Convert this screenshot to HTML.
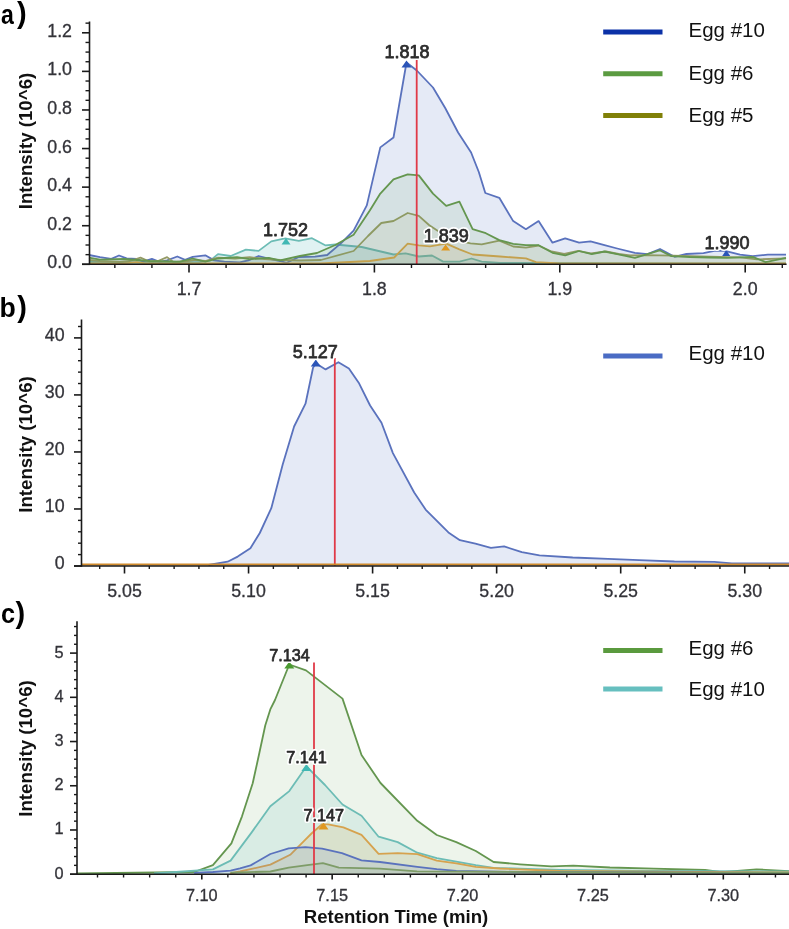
<!DOCTYPE html>
<html><head><meta charset="utf-8"><title>Chromatograms</title>
<style>
html,body{margin:0;padding:0;background:#fff;}
body{width:789px;height:929px;overflow:hidden;position:relative;font-family:"Liberation Sans", sans-serif;}
svg{position:absolute;left:0;top:0;display:block;filter:blur(0.3px);}
svg text{font-family:"Liberation Sans", sans-serif;}
</style></head><body>
<svg width="789" height="929" viewBox="0 0 789 929">
<rect width="789" height="929" fill="#fff"/>
<polygon points="89,264.3 89,262 150,262.5 200,262 210.4,260.4 218,254.1 230.7,256 245.9,249.6 258.6,250.9 271.3,241.4 285,238.4 298.8,240.9 312,238.2 325.2,245.3 335.3,244.5 361.7,247 393.5,254.5 405.6,253.4 418.8,256.5 432,255.5 443.2,261.6 459.4,261.6 471.6,258.5 481.7,261.6 500,263 786,263.5 786,264.3" fill="#62c0c0" fill-opacity="0.2" stroke="none"/>
<polyline points="89,262 150,262.5 200,262 210.4,260.4 218,254.1 230.7,256 245.9,249.6 258.6,250.9 271.3,241.4 285,238.4 298.8,240.9 312,238.2 325.2,245.3 335.3,244.5 361.7,247 393.5,254.5 405.6,253.4 418.8,256.5 432,255.5 443.2,261.6 459.4,261.6 471.6,258.5 481.7,261.6 500,263 786,263.5" fill="none" stroke="#6cbcb5" stroke-width="1.8" stroke-opacity="1.0" stroke-linejoin="round"/>
<polygon points="89,264.3 89,255 100,257.1 111.3,258.8 119,255.5 126.6,258.4 136.7,258.8 143,261.5 151.9,258.8 159.5,261.8 167.1,260.3 177.3,256.5 185.1,259.8 192.7,256.9 205.3,255.3 214.2,260.4 224.4,261.7 239.6,262.3 248.4,260.4 258.6,256 268.7,258.5 280,261 286.7,262.8 298.8,257 315,256.7 327.2,255 341.4,242.9 353.6,230.7 366.8,205.4 380.3,147.4 393.5,137.5 406.5,62.5 416.8,70.5 433,87.5 445.2,108 458.1,132.5 471.1,152.5 478.8,172 485.3,193 499.3,197.8 513.2,221.1 525.9,229.2 538.6,221.1 552.5,242.7 565.2,238.4 579.1,242.7 590.5,241.4 604.5,245.2 617.2,248.5 634.9,252.8 647.6,254.1 660,249 674.6,256.8 686.4,254 703.5,253.1 714.2,250.8 725,250.8 740,254.6 752.8,256.1 767.8,254.6 786,254.6 786,264.3" fill="#5070c4" fill-opacity="0.15" stroke="none"/>
<polyline points="89,255 100,257.1 111.3,258.8 119,255.5 126.6,258.4 136.7,258.8 143,261.5 151.9,258.8 159.5,261.8 167.1,260.3 177.3,256.5 185.1,259.8 192.7,256.9 205.3,255.3 214.2,260.4 224.4,261.7 239.6,262.3 248.4,260.4 258.6,256 268.7,258.5 280,261 286.7,262.8 298.8,257 315,256.7 327.2,255 341.4,242.9 353.6,230.7 366.8,205.4 380.3,147.4 393.5,137.5 406.5,62.5 416.8,70.5 433,87.5 445.2,108 458.1,132.5 471.1,152.5 478.8,172 485.3,193 499.3,197.8 513.2,221.1 525.9,229.2 538.6,221.1 552.5,242.7 565.2,238.4 579.1,242.7 590.5,241.4 604.5,245.2 617.2,248.5 634.9,252.8 647.6,254.1 660,249 674.6,256.8 686.4,254 703.5,253.1 714.2,250.8 725,250.8 740,254.6 752.8,256.1 767.8,254.6 786,254.6" fill="none" stroke="#5a72bd" stroke-width="1.8" stroke-opacity="1.0" stroke-linejoin="round"/>
<polygon points="89,264.3 89,263.5 120,263.3 129,262.8 136.7,262.2 145,263.3 200,263.5 260,263.5 320,263.5 369.8,261 394.2,257.5 407.7,243.7 418.8,245.3 430,246.3 446.2,243.7 459.4,249.4 472.6,254.5 500,256.5 525.9,258.4 536,262.2 560,263.5 786,263.5 786,264.3" fill="#d9a040" fill-opacity="0.1" stroke="none"/>
<polyline points="89,263.5 120,263.3 129,262.8 136.7,262.2 145,263.3 200,263.5 260,263.5 320,263.5 369.8,261 394.2,257.5 407.7,243.7 418.8,245.3 430,246.3 446.2,243.7 459.4,249.4 472.6,254.5 500,256.5 525.9,258.4 536,262.2 560,263.5 786,263.5" fill="none" stroke="#d6a24e" stroke-width="1.8" stroke-opacity="1.0" stroke-linejoin="round"/>
<polygon points="89,264.3 89,260 100,261 120,262 130,261 140.5,257.7 149.4,261.5 158,261 167.1,257.1 173.5,262.2 187.6,261 195.2,259.8 205,261 218,257.6 235,258.5 249.7,257.2 265,259 280,260 300,260.5 321,260 353.6,251 368,236 381.3,223 393.5,221 407.7,213 418.8,215.9 429,225 441,233 455,240 470.5,243.3 481.7,244.3 499.3,240.6 513.2,246.5 525.9,247.7 538.6,245.5 551.5,251.5 564.2,254 578.2,250.8 590.8,253.4 606,251.5 618.7,254 630,255.3 645.7,255.1 673.5,255.6 700,256.5 740,257.3 757,259.4 786,258.3 786,264.3" fill="#a3a25c" fill-opacity="0.09" stroke="none"/>
<polyline points="89,260 100,261 120,262 130,261 140.5,257.7 149.4,261.5 158,261 167.1,257.1 173.5,262.2 187.6,261 195.2,259.8 205,261 218,257.6 235,258.5 249.7,257.2 265,259 280,260 300,260.5 321,260 353.6,251 368,236 381.3,223 393.5,221 407.7,213 418.8,215.9 429,225 441,233 455,240 470.5,243.3 481.7,244.3 499.3,240.6 513.2,246.5 525.9,247.7 538.6,245.5 551.5,251.5 564.2,254 578.2,250.8 590.8,253.4 606,251.5 618.7,254 630,255.3 645.7,255.1 673.5,255.6 700,256.5 740,257.3 757,259.4 786,258.3" fill="none" stroke="#949a66" stroke-width="1.8" stroke-opacity="1.0" stroke-linejoin="round"/>
<polygon points="89,264.3 89,257.7 100,259.6 124,259 150,261 180,261.7 192.7,258.5 205.3,261.7 218,258.5 237,257.2 249.7,259.2 268.7,257.9 280,260.4 300,256 317,253 335.3,245 353.6,234.8 369.8,210.4 380.3,193.6 393.5,179.4 407.7,174.3 418.8,175.4 433,193.6 446.2,205.8 459.4,201.7 472.6,229.1 485.8,233.2 499.3,240.1 513.2,243.9 525.9,245.2 538.6,245.2 552.5,252.8 565.2,255.3 579.1,251 591.8,254.1 604.5,251.5 617.2,254.1 634.9,257.9 645.7,254.6 659.6,250.3 671.4,256.1 690,257 710,257.5 727,257.8 752.8,256.8 765.6,262.1 786,257.8 786,264.3" fill="#5d9a45" fill-opacity="0.11" stroke="none"/>
<polyline points="89,257.7 100,259.6 124,259 150,261 180,261.7 192.7,258.5 205.3,261.7 218,258.5 237,257.2 249.7,259.2 268.7,257.9 280,260.4 300,256 317,253 335.3,245 353.6,234.8 369.8,210.4 380.3,193.6 393.5,179.4 407.7,174.3 418.8,175.4 433,193.6 446.2,205.8 459.4,201.7 472.6,229.1 485.8,233.2 499.3,240.1 513.2,243.9 525.9,245.2 538.6,245.2 552.5,252.8 565.2,255.3 579.1,251 591.8,254.1 604.5,251.5 617.2,254.1 634.9,257.9 645.7,254.6 659.6,250.3 671.4,256.1 690,257 710,257.5 727,257.8 752.8,256.8 765.6,262.1 786,257.8" fill="none" stroke="#64964f" stroke-width="1.8" stroke-opacity="1.0" stroke-linejoin="round"/>
<line x1="416.7" y1="59.9" x2="416.7" y2="264.3" stroke="#e03a48" stroke-width="1.8"/>
<polygon points="406.5,60.5 401.5,67.5 411.5,67.5" fill="#2a54b8"/>
<polygon points="286,238 281.5,244.5 290.5,244.5" fill="#40b8b4"/>
<polygon points="445.6,244.5 441.1,250.5 450.1,250.5" fill="#e09820"/>
<polygon points="726.2,250 722.2,256 730.2,256" fill="#2a54b8"/>
<text x="407" y="58.3" font-size="18" text-anchor="middle" fill="#fff" stroke="#fff" stroke-width="4" stroke-linejoin="round">1.818</text>
<text x="407" y="58.3" font-size="18" text-anchor="middle" fill="#2b2b2b" stroke="#2b2b2b" stroke-width="0.75" stroke-linejoin="round">1.818</text>
<text x="285.5" y="235.9" font-size="18" text-anchor="middle" fill="#fff" stroke="#fff" stroke-width="4" stroke-linejoin="round">1.752</text>
<text x="285.5" y="235.9" font-size="18" text-anchor="middle" fill="#2b2b2b" stroke="#2b2b2b" stroke-width="0.75" stroke-linejoin="round">1.752</text>
<text x="446.2" y="241.5" font-size="18" text-anchor="middle" fill="#fff" stroke="#fff" stroke-width="4" stroke-linejoin="round">1.839</text>
<text x="446.2" y="241.5" font-size="18" text-anchor="middle" fill="#2b2b2b" stroke="#2b2b2b" stroke-width="0.75" stroke-linejoin="round">1.839</text>
<text x="727" y="249.3" font-size="18" text-anchor="middle" fill="#fff" stroke="#fff" stroke-width="4" stroke-linejoin="round">1.990</text>
<text x="727" y="249.3" font-size="18" text-anchor="middle" fill="#2b2b2b" stroke="#2b2b2b" stroke-width="0.75" stroke-linejoin="round">1.990</text>
<line x1="89.5" y1="21.5" x2="89.5" y2="265.05" stroke="#1a1a1a" stroke-width="1.6"/>
<line x1="82" y1="264.3" x2="786.6" y2="264.3" stroke="#1a1a1a" stroke-width="1.6"/>
<line x1="82" y1="264.3" x2="89.5" y2="264.3" stroke="#1a1a1a" stroke-width="1.6"/>
<text x="72" y="268.4" font-size="17.8" text-anchor="end" font-weight="normal" fill="#333339" stroke="#333339" stroke-width="0.3">0.0</text>
<line x1="85.5" y1="254.65" x2="89.5" y2="254.65" stroke="#1a1a1a" stroke-width="1.4"/>
<line x1="85.5" y1="245.01" x2="89.5" y2="245.01" stroke="#1a1a1a" stroke-width="1.4"/>
<line x1="85.5" y1="235.36" x2="89.5" y2="235.36" stroke="#1a1a1a" stroke-width="1.4"/>
<line x1="82" y1="225.72" x2="89.5" y2="225.72" stroke="#1a1a1a" stroke-width="1.6"/>
<text x="72" y="229.82" font-size="17.8" text-anchor="end" font-weight="normal" fill="#333339" stroke="#333339" stroke-width="0.3">0.2</text>
<line x1="85.5" y1="216.07" x2="89.5" y2="216.07" stroke="#1a1a1a" stroke-width="1.4"/>
<line x1="85.5" y1="206.43" x2="89.5" y2="206.43" stroke="#1a1a1a" stroke-width="1.4"/>
<line x1="85.5" y1="196.78" x2="89.5" y2="196.78" stroke="#1a1a1a" stroke-width="1.4"/>
<line x1="82" y1="187.13" x2="89.5" y2="187.13" stroke="#1a1a1a" stroke-width="1.6"/>
<text x="72" y="191.23" font-size="17.8" text-anchor="end" font-weight="normal" fill="#333339" stroke="#333339" stroke-width="0.3">0.4</text>
<line x1="85.5" y1="177.49" x2="89.5" y2="177.49" stroke="#1a1a1a" stroke-width="1.4"/>
<line x1="85.5" y1="167.84" x2="89.5" y2="167.84" stroke="#1a1a1a" stroke-width="1.4"/>
<line x1="85.5" y1="158.2" x2="89.5" y2="158.2" stroke="#1a1a1a" stroke-width="1.4"/>
<line x1="82" y1="148.55" x2="89.5" y2="148.55" stroke="#1a1a1a" stroke-width="1.6"/>
<text x="72" y="152.65" font-size="17.8" text-anchor="end" font-weight="normal" fill="#333339" stroke="#333339" stroke-width="0.3">0.6</text>
<line x1="85.5" y1="138.9" x2="89.5" y2="138.9" stroke="#1a1a1a" stroke-width="1.4"/>
<line x1="85.5" y1="129.26" x2="89.5" y2="129.26" stroke="#1a1a1a" stroke-width="1.4"/>
<line x1="85.5" y1="119.61" x2="89.5" y2="119.61" stroke="#1a1a1a" stroke-width="1.4"/>
<line x1="82" y1="109.97" x2="89.5" y2="109.97" stroke="#1a1a1a" stroke-width="1.6"/>
<text x="72" y="114.07" font-size="17.8" text-anchor="end" font-weight="normal" fill="#333339" stroke="#333339" stroke-width="0.3">0.8</text>
<line x1="85.5" y1="100.32" x2="89.5" y2="100.32" stroke="#1a1a1a" stroke-width="1.4"/>
<line x1="85.5" y1="90.67" x2="89.5" y2="90.67" stroke="#1a1a1a" stroke-width="1.4"/>
<line x1="85.5" y1="81.03" x2="89.5" y2="81.03" stroke="#1a1a1a" stroke-width="1.4"/>
<line x1="82" y1="71.38" x2="89.5" y2="71.38" stroke="#1a1a1a" stroke-width="1.6"/>
<text x="72" y="75.48" font-size="17.8" text-anchor="end" font-weight="normal" fill="#333339" stroke="#333339" stroke-width="0.3">1.0</text>
<line x1="85.5" y1="61.74" x2="89.5" y2="61.74" stroke="#1a1a1a" stroke-width="1.4"/>
<line x1="85.5" y1="52.09" x2="89.5" y2="52.09" stroke="#1a1a1a" stroke-width="1.4"/>
<line x1="85.5" y1="42.45" x2="89.5" y2="42.45" stroke="#1a1a1a" stroke-width="1.4"/>
<line x1="82" y1="32.8" x2="89.5" y2="32.8" stroke="#1a1a1a" stroke-width="1.6"/>
<text x="72" y="36.9" font-size="17.8" text-anchor="end" font-weight="normal" fill="#333339" stroke="#333339" stroke-width="0.3">1.2</text>
<line x1="85.5" y1="23.15" x2="89.5" y2="23.15" stroke="#1a1a1a" stroke-width="1.4"/>
<line x1="114.84" y1="264.3" x2="114.84" y2="268" stroke="#1a1a1a" stroke-width="1.4"/>
<line x1="151.92" y1="264.3" x2="151.92" y2="268" stroke="#1a1a1a" stroke-width="1.4"/>
<line x1="189" y1="264.3" x2="189" y2="272.5" stroke="#1a1a1a" stroke-width="1.6"/>
<text x="189" y="294.6" font-size="17.8" text-anchor="middle" font-weight="normal" fill="#333339" stroke="#333339" stroke-width="0.3">1.7</text>
<line x1="226.08" y1="264.3" x2="226.08" y2="268" stroke="#1a1a1a" stroke-width="1.4"/>
<line x1="263.16" y1="264.3" x2="263.16" y2="268" stroke="#1a1a1a" stroke-width="1.4"/>
<line x1="300.24" y1="264.3" x2="300.24" y2="268" stroke="#1a1a1a" stroke-width="1.4"/>
<line x1="337.32" y1="264.3" x2="337.32" y2="268" stroke="#1a1a1a" stroke-width="1.4"/>
<line x1="374.4" y1="264.3" x2="374.4" y2="272.5" stroke="#1a1a1a" stroke-width="1.6"/>
<text x="374.4" y="294.6" font-size="17.8" text-anchor="middle" font-weight="normal" fill="#333339" stroke="#333339" stroke-width="0.3">1.8</text>
<line x1="411.48" y1="264.3" x2="411.48" y2="268" stroke="#1a1a1a" stroke-width="1.4"/>
<line x1="448.56" y1="264.3" x2="448.56" y2="268" stroke="#1a1a1a" stroke-width="1.4"/>
<line x1="485.64" y1="264.3" x2="485.64" y2="268" stroke="#1a1a1a" stroke-width="1.4"/>
<line x1="522.72" y1="264.3" x2="522.72" y2="268" stroke="#1a1a1a" stroke-width="1.4"/>
<line x1="559.8" y1="264.3" x2="559.8" y2="272.5" stroke="#1a1a1a" stroke-width="1.6"/>
<text x="559.8" y="294.6" font-size="17.8" text-anchor="middle" font-weight="normal" fill="#333339" stroke="#333339" stroke-width="0.3">1.9</text>
<line x1="596.88" y1="264.3" x2="596.88" y2="268" stroke="#1a1a1a" stroke-width="1.4"/>
<line x1="633.96" y1="264.3" x2="633.96" y2="268" stroke="#1a1a1a" stroke-width="1.4"/>
<line x1="671.04" y1="264.3" x2="671.04" y2="268" stroke="#1a1a1a" stroke-width="1.4"/>
<line x1="708.12" y1="264.3" x2="708.12" y2="268" stroke="#1a1a1a" stroke-width="1.4"/>
<line x1="745.2" y1="264.3" x2="745.2" y2="272.5" stroke="#1a1a1a" stroke-width="1.6"/>
<text x="745.2" y="294.6" font-size="17.8" text-anchor="middle" font-weight="normal" fill="#333339" stroke="#333339" stroke-width="0.3">2.0</text>
<line x1="782.28" y1="264.3" x2="782.28" y2="268" stroke="#1a1a1a" stroke-width="1.4"/>
<text transform="translate(0.9,23.7) scale(0.84,1)" font-size="27.5" font-weight="bold" fill="#000">a</text>
<text x="17.0" y="23.4" font-size="29" font-weight="bold" fill="#000">)</text>
<text transform="translate(31.8,141) rotate(-90)" x="0" y="0" font-size="18.7" text-anchor="middle" font-weight="bold" fill="#111">Intensity (10^6)</text>
<line x1="603.2" y1="32.1" x2="662.5" y2="32.1" stroke="#0b31a7" stroke-width="5"/>
<text x="688.5" y="37.4" font-size="20.5" text-anchor="start" font-weight="normal" fill="#111" >Egg #10</text>
<line x1="603.2" y1="73.85" x2="662.5" y2="73.85" stroke="#5b9b41" stroke-width="5"/>
<text x="688.5" y="80" font-size="20.5" text-anchor="start" font-weight="normal" fill="#111" >Egg #6</text>
<line x1="603.2" y1="115.6" x2="662.5" y2="115.6" stroke="#808008" stroke-width="5"/>
<text x="688.5" y="121.8" font-size="20.5" text-anchor="start" font-weight="normal" fill="#111" >Egg #5</text>
<polygon points="208.5,566 208.5,565 227.6,561.7 237.7,556.6 250.4,548.3 259.8,533 271.3,508.2 282.7,464.5 294.1,426.5 305.5,403.7 313.1,367.5 316.1,363.5 325.6,369.4 338.4,362.2 348.9,368.5 358.7,382.7 370.1,405.5 381.5,422.7 392.9,453.1 414.2,492.5 425.6,509.6 448.4,532.4 459.9,540.2 475.4,543.6 490.9,547.8 504.1,546.4 521.8,552.2 539.5,555.3 572.7,557.5 608.1,558.8 639,560.2 674.4,561.5 714.2,561.9 731.9,563.3 789,563.3 789,566" fill="#5070c4" fill-opacity="0.15" stroke="none"/>
<polyline points="208.5,565 227.6,561.7 237.7,556.6 250.4,548.3 259.8,533 271.3,508.2 282.7,464.5 294.1,426.5 305.5,403.7 313.1,367.5 316.1,363.5 325.6,369.4 338.4,362.2 348.9,368.5 358.7,382.7 370.1,405.5 381.5,422.7 392.9,453.1 414.2,492.5 425.6,509.6 448.4,532.4 459.9,540.2 475.4,543.6 490.9,547.8 504.1,546.4 521.8,552.2 539.5,555.3 572.7,557.5 608.1,558.8 639,560.2 674.4,561.5 714.2,561.9 731.9,563.3 789,563.3" fill="none" stroke="#5a72bd" stroke-width="1.8" stroke-opacity="1.0" stroke-linejoin="round"/>
<line x1="334.8" y1="358" x2="334.8" y2="566" stroke="#e03a48" stroke-width="1.8"/>
<polygon points="315.8,359.5 310.8,366.5 320.8,366.5" fill="#2a54b8"/>
<text x="315.2" y="358" font-size="18" text-anchor="middle" fill="#fff" stroke="#fff" stroke-width="4" stroke-linejoin="round">5.127</text>
<text x="315.2" y="358" font-size="18" text-anchor="middle" fill="#2b2b2b" stroke="#2b2b2b" stroke-width="0.75" stroke-linejoin="round">5.127</text>
<line x1="81.5" y1="564.5" x2="789" y2="564.5" stroke="#d08a2c" stroke-width="2"/>
<line x1="81.5" y1="319.5" x2="81.5" y2="566.75" stroke="#1a1a1a" stroke-width="1.6"/>
<line x1="74" y1="566" x2="789" y2="566" stroke="#1a1a1a" stroke-width="1.6"/>
<line x1="74" y1="566" x2="81.5" y2="566" stroke="#1a1a1a" stroke-width="1.6"/>
<text x="64.6" y="569.3" font-size="17.8" text-anchor="end" font-weight="normal" fill="#333339" stroke="#333339" stroke-width="0.3">0</text>
<line x1="78" y1="554.6" x2="81.5" y2="554.6" stroke="#1a1a1a" stroke-width="1.4"/>
<line x1="78" y1="543.19" x2="81.5" y2="543.19" stroke="#1a1a1a" stroke-width="1.4"/>
<line x1="78" y1="531.78" x2="81.5" y2="531.78" stroke="#1a1a1a" stroke-width="1.4"/>
<line x1="78" y1="520.38" x2="81.5" y2="520.38" stroke="#1a1a1a" stroke-width="1.4"/>
<line x1="74" y1="508.98" x2="81.5" y2="508.98" stroke="#1a1a1a" stroke-width="1.6"/>
<text x="64.6" y="512.27" font-size="17.8" text-anchor="end" font-weight="normal" fill="#333339" stroke="#333339" stroke-width="0.3">10</text>
<line x1="78" y1="497.57" x2="81.5" y2="497.57" stroke="#1a1a1a" stroke-width="1.4"/>
<line x1="78" y1="486.16" x2="81.5" y2="486.16" stroke="#1a1a1a" stroke-width="1.4"/>
<line x1="78" y1="474.76" x2="81.5" y2="474.76" stroke="#1a1a1a" stroke-width="1.4"/>
<line x1="78" y1="463.36" x2="81.5" y2="463.36" stroke="#1a1a1a" stroke-width="1.4"/>
<line x1="74" y1="451.95" x2="81.5" y2="451.95" stroke="#1a1a1a" stroke-width="1.6"/>
<text x="64.6" y="455.25" font-size="17.8" text-anchor="end" font-weight="normal" fill="#333339" stroke="#333339" stroke-width="0.3">20</text>
<line x1="78" y1="440.54" x2="81.5" y2="440.54" stroke="#1a1a1a" stroke-width="1.4"/>
<line x1="78" y1="429.14" x2="81.5" y2="429.14" stroke="#1a1a1a" stroke-width="1.4"/>
<line x1="78" y1="417.74" x2="81.5" y2="417.74" stroke="#1a1a1a" stroke-width="1.4"/>
<line x1="78" y1="406.33" x2="81.5" y2="406.33" stroke="#1a1a1a" stroke-width="1.4"/>
<line x1="74" y1="394.92" x2="81.5" y2="394.92" stroke="#1a1a1a" stroke-width="1.6"/>
<text x="64.6" y="398.22" font-size="17.8" text-anchor="end" font-weight="normal" fill="#333339" stroke="#333339" stroke-width="0.3">30</text>
<line x1="78" y1="383.52" x2="81.5" y2="383.52" stroke="#1a1a1a" stroke-width="1.4"/>
<line x1="78" y1="372.12" x2="81.5" y2="372.12" stroke="#1a1a1a" stroke-width="1.4"/>
<line x1="78" y1="360.71" x2="81.5" y2="360.71" stroke="#1a1a1a" stroke-width="1.4"/>
<line x1="78" y1="349.3" x2="81.5" y2="349.3" stroke="#1a1a1a" stroke-width="1.4"/>
<line x1="74" y1="337.9" x2="81.5" y2="337.9" stroke="#1a1a1a" stroke-width="1.6"/>
<text x="64.6" y="341.2" font-size="17.8" text-anchor="end" font-weight="normal" fill="#333339" stroke="#333339" stroke-width="0.3">40</text>
<line x1="78" y1="326.5" x2="81.5" y2="326.5" stroke="#1a1a1a" stroke-width="1.4"/>
<line x1="99.69" y1="566" x2="99.69" y2="569" stroke="#1a1a1a" stroke-width="1.4"/>
<line x1="124.5" y1="566" x2="124.5" y2="573.5" stroke="#1a1a1a" stroke-width="1.6"/>
<text x="124.5" y="596.5" font-size="17.8" text-anchor="middle" font-weight="normal" fill="#333339" stroke="#333339" stroke-width="0.3">5.05</text>
<line x1="149.31" y1="566" x2="149.31" y2="569" stroke="#1a1a1a" stroke-width="1.4"/>
<line x1="174.12" y1="566" x2="174.12" y2="569" stroke="#1a1a1a" stroke-width="1.4"/>
<line x1="198.93" y1="566" x2="198.93" y2="569" stroke="#1a1a1a" stroke-width="1.4"/>
<line x1="223.74" y1="566" x2="223.74" y2="569" stroke="#1a1a1a" stroke-width="1.4"/>
<line x1="248.55" y1="566" x2="248.55" y2="573.5" stroke="#1a1a1a" stroke-width="1.6"/>
<text x="248.55" y="596.5" font-size="17.8" text-anchor="middle" font-weight="normal" fill="#333339" stroke="#333339" stroke-width="0.3">5.10</text>
<line x1="273.36" y1="566" x2="273.36" y2="569" stroke="#1a1a1a" stroke-width="1.4"/>
<line x1="298.17" y1="566" x2="298.17" y2="569" stroke="#1a1a1a" stroke-width="1.4"/>
<line x1="322.98" y1="566" x2="322.98" y2="569" stroke="#1a1a1a" stroke-width="1.4"/>
<line x1="347.79" y1="566" x2="347.79" y2="569" stroke="#1a1a1a" stroke-width="1.4"/>
<line x1="372.6" y1="566" x2="372.6" y2="573.5" stroke="#1a1a1a" stroke-width="1.6"/>
<text x="372.6" y="596.5" font-size="17.8" text-anchor="middle" font-weight="normal" fill="#333339" stroke="#333339" stroke-width="0.3">5.15</text>
<line x1="397.41" y1="566" x2="397.41" y2="569" stroke="#1a1a1a" stroke-width="1.4"/>
<line x1="422.22" y1="566" x2="422.22" y2="569" stroke="#1a1a1a" stroke-width="1.4"/>
<line x1="447.03" y1="566" x2="447.03" y2="569" stroke="#1a1a1a" stroke-width="1.4"/>
<line x1="471.84" y1="566" x2="471.84" y2="569" stroke="#1a1a1a" stroke-width="1.4"/>
<line x1="496.65" y1="566" x2="496.65" y2="573.5" stroke="#1a1a1a" stroke-width="1.6"/>
<text x="496.65" y="596.5" font-size="17.8" text-anchor="middle" font-weight="normal" fill="#333339" stroke="#333339" stroke-width="0.3">5.20</text>
<line x1="521.46" y1="566" x2="521.46" y2="569" stroke="#1a1a1a" stroke-width="1.4"/>
<line x1="546.27" y1="566" x2="546.27" y2="569" stroke="#1a1a1a" stroke-width="1.4"/>
<line x1="571.08" y1="566" x2="571.08" y2="569" stroke="#1a1a1a" stroke-width="1.4"/>
<line x1="595.89" y1="566" x2="595.89" y2="569" stroke="#1a1a1a" stroke-width="1.4"/>
<line x1="620.7" y1="566" x2="620.7" y2="573.5" stroke="#1a1a1a" stroke-width="1.6"/>
<text x="620.7" y="596.5" font-size="17.8" text-anchor="middle" font-weight="normal" fill="#333339" stroke="#333339" stroke-width="0.3">5.25</text>
<line x1="645.51" y1="566" x2="645.51" y2="569" stroke="#1a1a1a" stroke-width="1.4"/>
<line x1="670.32" y1="566" x2="670.32" y2="569" stroke="#1a1a1a" stroke-width="1.4"/>
<line x1="695.13" y1="566" x2="695.13" y2="569" stroke="#1a1a1a" stroke-width="1.4"/>
<line x1="719.94" y1="566" x2="719.94" y2="569" stroke="#1a1a1a" stroke-width="1.4"/>
<line x1="744.75" y1="566" x2="744.75" y2="573.5" stroke="#1a1a1a" stroke-width="1.6"/>
<text x="744.75" y="596.5" font-size="17.8" text-anchor="middle" font-weight="normal" fill="#333339" stroke="#333339" stroke-width="0.3">5.30</text>
<line x1="769.56" y1="566" x2="769.56" y2="569" stroke="#1a1a1a" stroke-width="1.4"/>
<text transform="translate(-0.6,317.3) scale(0.97,1)" font-size="27.5" font-weight="bold" fill="#000">b</text>
<text x="17.3" y="317" font-size="29" font-weight="bold" fill="#000">)</text>
<text transform="translate(31.8,444.5) rotate(-90)" x="0" y="0" font-size="18.7" text-anchor="middle" font-weight="bold" fill="#111">Intensity (10^6)</text>
<line x1="603.2" y1="355.9" x2="662.5" y2="355.9" stroke="#4a6cc4" stroke-width="5"/>
<text x="688.5" y="360.2" font-size="20.5" text-anchor="start" font-weight="normal" fill="#111" >Egg #10</text>
<polygon points="77,874.2 77,873.5 194.2,872 212.9,865.1 231.4,843.4 242,816.3 252.7,783.3 259.5,752.3 265.3,725.2 270.3,709.4 275,700 289.3,664.5 306,670.4 342.5,698.6 361.5,755 380.5,783 417.3,820.8 436.8,835 456.3,842.1 475.8,851 493.6,862 520,864.3 551.3,866.4 573.3,865.6 609.9,867.5 653.8,868.6 705.1,870 721.6,872.2 756.4,869.3 789,871.1 789,874.2" fill="#5d9a45" fill-opacity="0.11" stroke="none"/>
<polyline points="77,873.5 194.2,872 212.9,865.1 231.4,843.4 242,816.3 252.7,783.3 259.5,752.3 265.3,725.2 270.3,709.4 275,700 289.3,664.5 306,670.4 342.5,698.6 361.5,755 380.5,783 417.3,820.8 436.8,835 456.3,842.1 475.8,851 493.6,862 520,864.3 551.3,866.4 573.3,865.6 609.9,867.5 653.8,868.6 705.1,870 721.6,872.2 756.4,869.3 789,871.1" fill="none" stroke="#64964f" stroke-width="1.8" stroke-opacity="1.0" stroke-linejoin="round"/>
<polygon points="154,874.2 154,873.5 212.9,869.4 230.6,860.6 251.3,832.9 270.3,806.3 289.3,791.1 306.4,766.4 325,785 342.5,804.5 361.5,815.8 378.6,836.7 397.7,842.1 417.3,852.7 436.8,858.1 456.3,861.6 475.8,865.2 493.6,867.8 520,868.7 560,870 650,871 789,871.5 789,874.2" fill="#62c0c0" fill-opacity="0.14" stroke="none"/>
<polyline points="154,873.5 212.9,869.4 230.6,860.6 251.3,832.9 270.3,806.3 289.3,791.1 306.4,766.4 325,785 342.5,804.5 361.5,815.8 378.6,836.7 397.7,842.1 417.3,852.7 436.8,858.1 456.3,861.6 475.8,865.2 493.6,867.8 520,868.7 560,870 650,871 789,871.5" fill="none" stroke="#6cbcb5" stroke-width="1.8" stroke-opacity="1.0" stroke-linejoin="round"/>
<polygon points="230,874.2 230,873.5 240,871.5 270.4,864.6 290.2,854.8 303.9,841.1 311.5,833.5 322.1,824.3 328.2,824.3 343.4,827.4 361.5,834.8 378.6,853.8 397.7,853.1 417.3,854.2 436.8,860.7 456.3,863.4 475.8,866.9 500,868.5 560,871 789,872.5 789,874.2" fill="#d9a040" fill-opacity="0.14" stroke="none"/>
<polyline points="230,873.5 240,871.5 270.4,864.6 290.2,854.8 303.9,841.1 311.5,833.5 322.1,824.3 328.2,824.3 343.4,827.4 361.5,834.8 378.6,853.8 397.7,853.1 417.3,854.2 436.8,860.7 456.3,863.4 475.8,866.9 500,868.5 560,871 789,872.5" fill="none" stroke="#d6a24e" stroke-width="1.8" stroke-opacity="1.0" stroke-linejoin="round"/>
<polygon points="194.2,874.2 194.2,872.9 212.9,872 230.6,870.7 240,868.4 250.6,865.4 270.4,854 288.7,848.4 305.4,847.1 322.1,848.7 341.9,853.2 361.5,860.3 380,862 417.3,866.9 436.8,869.1 456.3,870.8 520,872 789,873 789,874.2" fill="#5070c4" fill-opacity="0.12" stroke="none"/>
<polyline points="194.2,872.9 212.9,872 230.6,870.7 240,868.4 250.6,865.4 270.4,854 288.7,848.4 305.4,847.1 322.1,848.7 341.9,853.2 361.5,860.3 380,862 417.3,866.9 436.8,869.1 456.3,870.8 520,872 789,873" fill="none" stroke="#5a72bd" stroke-width="1.8" stroke-opacity="1.0" stroke-linejoin="round"/>
<polygon points="230.6,874.2 230.6,872.7 270.4,871.5 288.7,867.7 305.4,865.4 322.9,863.1 338.9,867.7 360,868.1 380,868.7 417,871.4 789,873 789,874.2" fill="#7e9c68" fill-opacity="0.12" stroke="none"/>
<polyline points="230.6,872.7 270.4,871.5 288.7,867.7 305.4,865.4 322.9,863.1 338.9,867.7 360,868.1 380,868.7 417,871.4 789,873" fill="none" stroke="#7e9c68" stroke-width="1.8" stroke-opacity="1.0" stroke-linejoin="round"/>
<line x1="314" y1="662.6" x2="314" y2="874.2" stroke="#e03a48" stroke-width="1.8"/>
<polygon points="289.3,661.5 284.3,668.5 294.3,668.5" fill="#4a9a30"/>
<polygon points="306.4,764 301.4,771 311.4,771" fill="#40b8b4"/>
<polygon points="323.5,822.5 318.5,829.5 328.5,829.5" fill="#e09820"/>
<text x="289.5" y="661.2" font-size="16.2" text-anchor="middle" fill="#fff" stroke="#fff" stroke-width="4" stroke-linejoin="round">7.134</text>
<text x="289.5" y="661.2" font-size="16.2" text-anchor="middle" fill="#2b2b2b" stroke="#2b2b2b" stroke-width="0.75" stroke-linejoin="round">7.134</text>
<text x="306.6" y="762.5" font-size="16.2" text-anchor="middle" fill="#fff" stroke="#fff" stroke-width="4" stroke-linejoin="round">7.141</text>
<text x="306.6" y="762.5" font-size="16.2" text-anchor="middle" fill="#2b2b2b" stroke="#2b2b2b" stroke-width="0.75" stroke-linejoin="round">7.141</text>
<text x="323.7" y="821.3" font-size="16.2" text-anchor="middle" fill="#fff" stroke="#fff" stroke-width="4" stroke-linejoin="round">7.147</text>
<text x="323.7" y="821.3" font-size="16.2" text-anchor="middle" fill="#2b2b2b" stroke="#2b2b2b" stroke-width="0.75" stroke-linejoin="round">7.147</text>
<line x1="77" y1="621.2" x2="77" y2="874.95" stroke="#1a1a1a" stroke-width="1.6"/>
<line x1="70" y1="874.2" x2="789" y2="874.2" stroke="#1a1a1a" stroke-width="1.6"/>
<line x1="70" y1="874.2" x2="77" y2="874.2" stroke="#1a1a1a" stroke-width="1.6"/>
<text x="63.6" y="878.6" font-size="16.3" text-anchor="end" font-weight="normal" fill="#333339" stroke="#333339" stroke-width="0.3">0</text>
<line x1="74" y1="865.36" x2="77" y2="865.36" stroke="#1a1a1a" stroke-width="1.4"/>
<line x1="74" y1="856.51" x2="77" y2="856.51" stroke="#1a1a1a" stroke-width="1.4"/>
<line x1="74" y1="847.67" x2="77" y2="847.67" stroke="#1a1a1a" stroke-width="1.4"/>
<line x1="74" y1="838.82" x2="77" y2="838.82" stroke="#1a1a1a" stroke-width="1.4"/>
<line x1="70" y1="829.98" x2="77" y2="829.98" stroke="#1a1a1a" stroke-width="1.6"/>
<text x="63.6" y="834.38" font-size="16.3" text-anchor="end" font-weight="normal" fill="#333339" stroke="#333339" stroke-width="0.3">1</text>
<line x1="74" y1="821.14" x2="77" y2="821.14" stroke="#1a1a1a" stroke-width="1.4"/>
<line x1="74" y1="812.29" x2="77" y2="812.29" stroke="#1a1a1a" stroke-width="1.4"/>
<line x1="74" y1="803.45" x2="77" y2="803.45" stroke="#1a1a1a" stroke-width="1.4"/>
<line x1="74" y1="794.6" x2="77" y2="794.6" stroke="#1a1a1a" stroke-width="1.4"/>
<line x1="70" y1="785.76" x2="77" y2="785.76" stroke="#1a1a1a" stroke-width="1.6"/>
<text x="63.6" y="790.16" font-size="16.3" text-anchor="end" font-weight="normal" fill="#333339" stroke="#333339" stroke-width="0.3">2</text>
<line x1="74" y1="776.92" x2="77" y2="776.92" stroke="#1a1a1a" stroke-width="1.4"/>
<line x1="74" y1="768.07" x2="77" y2="768.07" stroke="#1a1a1a" stroke-width="1.4"/>
<line x1="74" y1="759.23" x2="77" y2="759.23" stroke="#1a1a1a" stroke-width="1.4"/>
<line x1="74" y1="750.38" x2="77" y2="750.38" stroke="#1a1a1a" stroke-width="1.4"/>
<line x1="70" y1="741.54" x2="77" y2="741.54" stroke="#1a1a1a" stroke-width="1.6"/>
<text x="63.6" y="745.94" font-size="16.3" text-anchor="end" font-weight="normal" fill="#333339" stroke="#333339" stroke-width="0.3">3</text>
<line x1="74" y1="732.7" x2="77" y2="732.7" stroke="#1a1a1a" stroke-width="1.4"/>
<line x1="74" y1="723.85" x2="77" y2="723.85" stroke="#1a1a1a" stroke-width="1.4"/>
<line x1="74" y1="715.01" x2="77" y2="715.01" stroke="#1a1a1a" stroke-width="1.4"/>
<line x1="74" y1="706.16" x2="77" y2="706.16" stroke="#1a1a1a" stroke-width="1.4"/>
<line x1="70" y1="697.32" x2="77" y2="697.32" stroke="#1a1a1a" stroke-width="1.6"/>
<text x="63.6" y="701.72" font-size="16.3" text-anchor="end" font-weight="normal" fill="#333339" stroke="#333339" stroke-width="0.3">4</text>
<line x1="74" y1="688.48" x2="77" y2="688.48" stroke="#1a1a1a" stroke-width="1.4"/>
<line x1="74" y1="679.63" x2="77" y2="679.63" stroke="#1a1a1a" stroke-width="1.4"/>
<line x1="74" y1="670.79" x2="77" y2="670.79" stroke="#1a1a1a" stroke-width="1.4"/>
<line x1="74" y1="661.94" x2="77" y2="661.94" stroke="#1a1a1a" stroke-width="1.4"/>
<line x1="70" y1="653.1" x2="77" y2="653.1" stroke="#1a1a1a" stroke-width="1.6"/>
<text x="63.6" y="657.5" font-size="16.3" text-anchor="end" font-weight="normal" fill="#333339" stroke="#333339" stroke-width="0.3">5</text>
<line x1="74" y1="644.26" x2="77" y2="644.26" stroke="#1a1a1a" stroke-width="1.4"/>
<line x1="74" y1="635.41" x2="77" y2="635.41" stroke="#1a1a1a" stroke-width="1.4"/>
<line x1="74" y1="626.57" x2="77" y2="626.57" stroke="#1a1a1a" stroke-width="1.4"/>
<line x1="97.5" y1="874.2" x2="97.5" y2="877.5" stroke="#1a1a1a" stroke-width="1.4"/>
<line x1="123.57" y1="874.2" x2="123.57" y2="877.5" stroke="#1a1a1a" stroke-width="1.4"/>
<line x1="149.65" y1="874.2" x2="149.65" y2="877.5" stroke="#1a1a1a" stroke-width="1.4"/>
<line x1="175.73" y1="874.2" x2="175.73" y2="877.5" stroke="#1a1a1a" stroke-width="1.4"/>
<line x1="201.8" y1="874.2" x2="201.8" y2="879.5" stroke="#1a1a1a" stroke-width="1.6"/>
<text x="201.8" y="900.7" font-size="16.3" text-anchor="middle" font-weight="normal" fill="#333339" stroke="#333339" stroke-width="0.3">7.10</text>
<line x1="227.87" y1="874.2" x2="227.87" y2="877.5" stroke="#1a1a1a" stroke-width="1.4"/>
<line x1="253.95" y1="874.2" x2="253.95" y2="877.5" stroke="#1a1a1a" stroke-width="1.4"/>
<line x1="280.03" y1="874.2" x2="280.03" y2="877.5" stroke="#1a1a1a" stroke-width="1.4"/>
<line x1="306.1" y1="874.2" x2="306.1" y2="877.5" stroke="#1a1a1a" stroke-width="1.4"/>
<line x1="332.17" y1="874.2" x2="332.17" y2="879.5" stroke="#1a1a1a" stroke-width="1.6"/>
<text x="332.17" y="900.7" font-size="16.3" text-anchor="middle" font-weight="normal" fill="#333339" stroke="#333339" stroke-width="0.3">7.15</text>
<line x1="358.25" y1="874.2" x2="358.25" y2="877.5" stroke="#1a1a1a" stroke-width="1.4"/>
<line x1="384.33" y1="874.2" x2="384.33" y2="877.5" stroke="#1a1a1a" stroke-width="1.4"/>
<line x1="410.4" y1="874.2" x2="410.4" y2="877.5" stroke="#1a1a1a" stroke-width="1.4"/>
<line x1="436.47" y1="874.2" x2="436.47" y2="877.5" stroke="#1a1a1a" stroke-width="1.4"/>
<line x1="462.55" y1="874.2" x2="462.55" y2="879.5" stroke="#1a1a1a" stroke-width="1.6"/>
<text x="462.55" y="900.7" font-size="16.3" text-anchor="middle" font-weight="normal" fill="#333339" stroke="#333339" stroke-width="0.3">7.20</text>
<line x1="488.63" y1="874.2" x2="488.63" y2="877.5" stroke="#1a1a1a" stroke-width="1.4"/>
<line x1="514.7" y1="874.2" x2="514.7" y2="877.5" stroke="#1a1a1a" stroke-width="1.4"/>
<line x1="540.77" y1="874.2" x2="540.77" y2="877.5" stroke="#1a1a1a" stroke-width="1.4"/>
<line x1="566.85" y1="874.2" x2="566.85" y2="877.5" stroke="#1a1a1a" stroke-width="1.4"/>
<line x1="592.93" y1="874.2" x2="592.93" y2="879.5" stroke="#1a1a1a" stroke-width="1.6"/>
<text x="592.93" y="900.7" font-size="16.3" text-anchor="middle" font-weight="normal" fill="#333339" stroke="#333339" stroke-width="0.3">7.25</text>
<line x1="619" y1="874.2" x2="619" y2="877.5" stroke="#1a1a1a" stroke-width="1.4"/>
<line x1="645.07" y1="874.2" x2="645.07" y2="877.5" stroke="#1a1a1a" stroke-width="1.4"/>
<line x1="671.15" y1="874.2" x2="671.15" y2="877.5" stroke="#1a1a1a" stroke-width="1.4"/>
<line x1="697.23" y1="874.2" x2="697.23" y2="877.5" stroke="#1a1a1a" stroke-width="1.4"/>
<line x1="723.3" y1="874.2" x2="723.3" y2="879.5" stroke="#1a1a1a" stroke-width="1.6"/>
<text x="723.3" y="900.7" font-size="16.3" text-anchor="middle" font-weight="normal" fill="#333339" stroke="#333339" stroke-width="0.3">7.30</text>
<line x1="749.38" y1="874.2" x2="749.38" y2="877.5" stroke="#1a1a1a" stroke-width="1.4"/>
<line x1="775.45" y1="874.2" x2="775.45" y2="877.5" stroke="#1a1a1a" stroke-width="1.4"/>
<text transform="translate(0.9,623.2) scale(0.92,1)" font-size="27.5" font-weight="bold" fill="#000">c</text>
<text x="15.5" y="622.9" font-size="29" font-weight="bold" fill="#000">)</text>
<text transform="translate(32.3,748.5) rotate(-90)" x="0" y="0" font-size="18.7" text-anchor="middle" font-weight="bold" fill="#111">Intensity (10^6)</text>
<text x="396" y="923" font-size="18.6" text-anchor="middle" font-weight="bold" fill="#111" >Retention Time (min)</text>
<line x1="603.2" y1="650.5" x2="662.5" y2="650.5" stroke="#5a9a3e" stroke-width="5"/>
<text x="688.5" y="654.5" font-size="20.5" text-anchor="start" font-weight="normal" fill="#111" >Egg #6</text>
<line x1="603.2" y1="689.1" x2="662.5" y2="689.1" stroke="#66bfbf" stroke-width="5"/>
<text x="688.5" y="696.4" font-size="20.5" text-anchor="start" font-weight="normal" fill="#111" >Egg #10</text>
</svg>
</body></html>
